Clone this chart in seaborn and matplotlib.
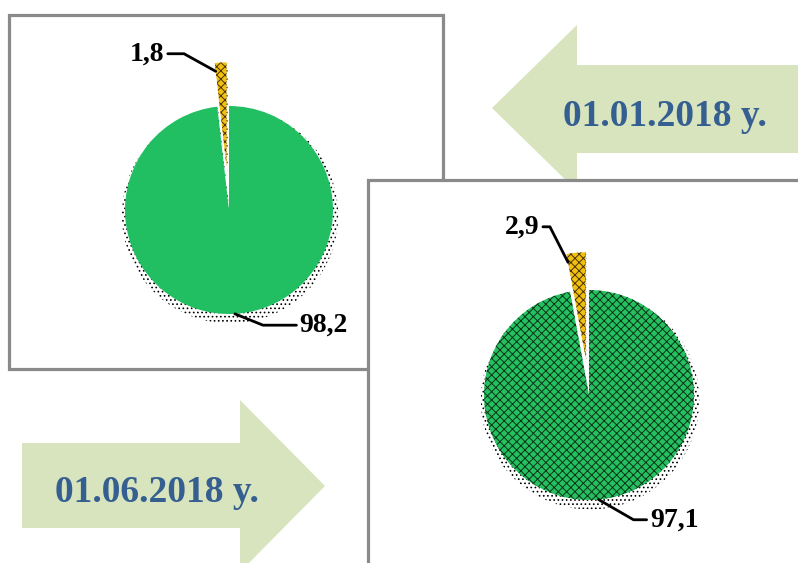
import matplotlib
matplotlib.use('Agg')
import matplotlib.pyplot as plt
from matplotlib.patches import Rectangle, Polygon
import seaborn as sns
import numpy as np

# data
dates = ['01.01.2018 y.', '01.06.2018 y.']
small_share = [1.8, 2.9]
large_share = [98.2, 97.1]

sns.set_theme(style='white')
plt.rcParams['font.family'] = ['Liberation Serif', 'DejaVu Serif']
plt.rcParams['hatch.linewidth'] = 0.7

W, H = 798, 563
GREY = '#8a8a8a'
ARROW = '#d7e4bd'
BLUE = '#365f91'
GREEN = '#22bf62'
GREEN2 = '#25c060'
GOLD = '#f2c010'

fig = plt.figure(figsize=(W / 100, H / 100), dpi=100)
ax0 = fig.add_axes([0, 0, 1, 1], zorder=0)
ax0.set_xlim(0, W)
ax0.set_ylim(H, 0)
ax0.axis('off')

# frames and arrows (pixel coordinates)
ax0.add_patch(Rectangle((9, 15), 434, 354, fc='white', ec=GREY, lw=2.3, zorder=1))
ax0.add_patch(Polygon([(492, 108), (577, 25), (577, 65), (805, 65), (805, 153),
                       (577, 153), (577, 191)], closed=True, fc=ARROW, ec='none', zorder=2))
ax0.add_patch(Rectangle((368, 180), 450, 400, fc='white', ec=GREY, lw=2.3, zorder=3))
ax0.add_patch(Polygon([(22, 443), (240, 443), (240, 400), (325, 486), (240, 572),
                       (240, 528), (22, 528)], closed=True, fc=ARROW, ec='none', zorder=2))
ax0.text(665, 126, dates[0], ha='center', va='baseline', fontsize=27,
         fontweight='bold', color=BLUE, zorder=4)
ax0.text(157, 502, dates[1], ha='center', va='baseline', fontsize=27,
         fontweight='bold', color=BLUE, zorder=4)


def pie_axes(cx, cy, r, half=1.6):
    s = half * r
    ax = fig.add_axes([(cx - s) / W, (H - cy - s) / H, 2 * s / W, 2 * s / H], zorder=2)
    return ax, half


def fmt(v):
    return f'{v:.1f}'.replace('.', ',')


def draw_pie(ax, half, small, large, explode, green, hatch_green,
             small_txt, large_txt, angB_small, angB_large):
    vals = [small, large]
    # dotted shadow, a little larger and lower than the pie
    ax.pie(vals, startangle=90, explode=[explode, 0], center=(0.01, -0.05), radius=1.04,
           wedgeprops=dict(fc='none', ec='black', hatch='....', lw=0))
    wedges, _ = ax.pie(vals, startangle=90, colors=[GOLD, green],
                       explode=[explode, 0], wedgeprops=dict(lw=0))
    wedges[0].set_hatch('xxxx')
    wedges[0].set_edgecolor('#4a3300')
    if hatch_green:
        wedges[1].set_hatch('xxxx')
        wedges[1].set_edgecolor('#0a3318')
    ax.set_xlim(-half, half)
    ax.set_ylim(-half, half)
    ax.set_aspect('equal')
    ax.axis('off')

    ws, wl = wedges
    t = np.deg2rad(ws.theta2)
    p_small = (ws.center[0] + 0.92 * ws.r * np.cos(t), ws.center[1] + 0.92 * ws.r * np.sin(t))
    t = np.deg2rad((wl.theta1 + wl.theta2) / 2)
    p_large = (wl.center[0] + 1.0 * wl.r * np.cos(t), wl.center[1] + 1.0 * wl.r * np.sin(t))

    ax.annotate(fmt(small), xy=p_small, xytext=small_txt, ha='right', va='baseline',
                fontsize=20, fontweight='bold', color='black', annotation_clip=False,
                arrowprops=dict(arrowstyle='-', lw=2.0, color='black', shrinkA=0, shrinkB=0,
                                connectionstyle=f'angle,angleA=0,angleB={angB_small},rad=0'))
    ax.annotate(fmt(large), xy=p_large, xytext=large_txt, ha='left', va='baseline',
                fontsize=20, fontweight='bold', color='black', annotation_clip=False,
                arrowprops=dict(arrowstyle='-', lw=2.0, color='black', shrinkA=0, shrinkB=0,
                                connectionstyle=f'angle,angleA=0,angleB={angB_large},rad=0'))


ax1, h1 = pie_axes(229, 210, 104)
draw_pie(ax1, h1, small_share[0], large_share[0], 0.42, GREEN, False,
         (-0.62, 1.44), (0.68, -1.17), -29, -22)

ax2, h2 = pie_axes(589, 395, 105)
draw_pie(ax2, h2, small_share[1], large_share[1], 0.36, GREEN2, True,
         (-0.47, 1.54), (0.58, -1.25), -63, -30)

fig.savefig('out.png', dpi=100)
